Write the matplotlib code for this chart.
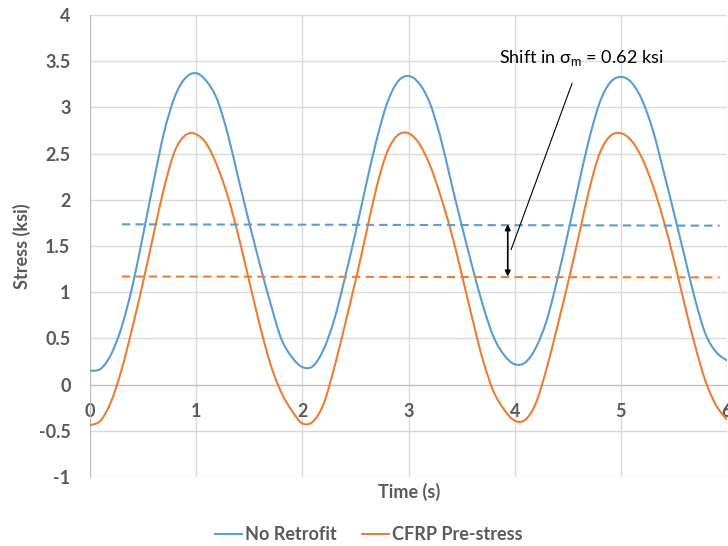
import numpy as np
import matplotlib
matplotlib.use("Agg")
import matplotlib.pyplot as plt
from matplotlib.path import Path
from matplotlib.patches import PathPatch
from matplotlib.lines import Line2D

plt.rcParams['font.family'] = ['Lato', 'DejaVu Sans']
plt.rcParams['mathtext.fontset'] = 'custom'
plt.rcParams['mathtext.rm'] = 'Lato'

# time axis, 0.1 s steps
time_s = np.round(np.arange(0, 61) * 0.1, 1)

# stress (ksi)
no_retrofit = [
    0.15, 0.17, 0.33, 0.63, 1.07, 1.62, 2.20, 2.74, 3.12, 3.32,
    3.37, 3.28, 3.08, 2.70, 2.22, 1.75, 1.30, 0.88, 0.50, 0.30,
    0.19, 0.20, 0.38, 0.70, 1.15, 1.64, 2.16, 2.65, 3.05, 3.28,
    3.34, 3.26, 3.05, 2.68, 2.20, 1.73, 1.28, 0.86, 0.52, 0.32,
    0.22, 0.24, 0.40, 0.69, 1.13, 1.63, 2.15, 2.65, 3.05, 3.27,
    3.33, 3.27, 3.08, 2.76, 2.32, 1.86, 1.39, 0.92, 0.54, 0.35,
    0.26,
]
cfrp_prestress = [
    -0.44, -0.39, -0.18, 0.17, 0.62, 1.11, 1.63, 2.14, 2.53, 2.70,
    2.71, 2.60, 2.36, 2.03, 1.60, 1.12, 0.64, 0.22, -0.08, -0.28,
    -0.42, -0.40, -0.21, 0.18, 0.64, 1.12, 1.63, 2.14, 2.52, 2.70,
    2.72, 2.61, 2.38, 2.05, 1.66, 1.20, 0.72, 0.27, -0.07, -0.27,
    -0.39, -0.38, -0.20, 0.17, 0.62, 1.09, 1.59, 2.10, 2.50, 2.69,
    2.72, 2.64, 2.45, 2.16, 1.79, 1.35, 0.87, 0.42, 0.03, -0.23,
    -0.38,
]

# mean stress lines
mean_x = [0.3, 5.93]
mean_no_retrofit = [1.735, 1.72]
mean_cfrp = [1.17, 1.16]

arrow_x = 3.935
shift_label = "Shift in σ$_{\\mathrm{m}}$ = 0.62 ksi"

blue = '#5B9BD5'
orange = '#ED7D31'
grey_txt = '#595959'
grid_c = '#D9D9D9'


def smooth_path(x, y):
    # Excel-style smoothed line: bezier segments through the data points
    pts = np.column_stack([x, y]).astype(float)
    n = len(pts)
    verts = [pts[0]]
    codes = [Path.MOVETO]
    for i in range(n - 1):
        p0 = pts[max(i - 1, 0)]
        p1 = pts[i]
        p2 = pts[i + 1]
        p3 = pts[min(i + 2, n - 1)]
        verts += [p1 + (p2 - p0) / 6, p2 - (p3 - p1) / 6, p2]
        codes += [Path.CURVE4] * 3
    return Path(verts, codes)


fig = plt.figure(figsize=(7.28, 5.46), dpi=100)
ax = fig.add_axes([90 / 728, 69 / 546, 637 / 728, 462 / 546])

ax.add_patch(PathPatch(smooth_path(time_s, no_retrofit), fc='none', ec=blue, lw=1.5, zorder=3))
ax.add_patch(PathPatch(smooth_path(time_s, cfrp_prestress), fc='none', ec=orange, lw=1.5, zorder=3))
ax.plot(mean_x, mean_no_retrofit, color=blue, lw=1.5, ls=(0, (4, 2.5)), zorder=3)
ax.plot(mean_x, mean_cfrp, color=orange, lw=1.5, ls=(0, (4, 2.5)), zorder=3)

# double arrow between the two means
ax.annotate('', xy=(arrow_x, mean_no_retrofit[0]), xytext=(arrow_x, mean_cfrp[0]),
            arrowprops=dict(arrowstyle='<|-|>', color='black', lw=1.2,
                            mutation_scale=8, shrinkA=0, shrinkB=0), zorder=4)
ax.annotate(shift_label, xy=(3.966, 1.46), xytext=(4.63, 3.54),
            ha='center', va='center', fontsize=13, color='black',
            arrowprops=dict(arrowstyle='-', color='black', lw=0.8,
                            shrinkA=10, shrinkB=0), zorder=4)

ax.set_xlim(0, 6)
ax.set_ylim(-1, 4)
ax.set_xticks(range(0, 7))
ax.set_yticks(np.arange(-1, 4.01, 0.5))
ax.set_yticklabels(['-1', '-0.5', '0', '0.5', '1', '1.5', '2', '2.5', '3', '3.5', '4'])
ax.grid(True, color=grid_c, lw=1)
ax.set_axisbelow(True)

for s in ['top', 'right']:
    ax.spines[s].set_visible(False)
ax.spines['left'].set_color('#BFBFBF')
ax.spines['bottom'].set_position(('data', 0))
ax.spines['bottom'].set_color('#BFBFBF')

ax.tick_params(axis='both', length=0, labelsize=13, labelcolor=grey_txt)
ax.tick_params(axis='x', pad=13)
ax.tick_params(axis='y', pad=14)
for lab in ax.get_xticklabels() + ax.get_yticklabels():
    lab.set_fontweight('bold')

fig.text(22 / 728, 1 - 246 / 546, 'Stress (ksi)', rotation=90, ha='center', va='center',
         fontsize=13, fontweight='bold', color=grey_txt)
fig.text(409 / 728, 1 - 492 / 546, 'Time (s)', ha='center', va='center',
         fontsize=13, fontweight='bold', color=grey_txt)

handles = [Line2D([], [], color=blue, lw=1.5), Line2D([], [], color=orange, lw=1.5)]
leg = fig.legend(handles, ['No Retrofit', 'CFRP Pre-stress'], loc='center',
                 bbox_to_anchor=(369 / 728, 1 - 535 / 546), ncol=2,
                 frameon=False, fontsize=13, handlelength=1.5, handletextpad=0.15,
                 columnspacing=1.4)
for t in leg.get_texts():
    t.set_color(grey_txt)
    t.set_fontweight('bold')

fig.savefig('out.png', dpi=100)
